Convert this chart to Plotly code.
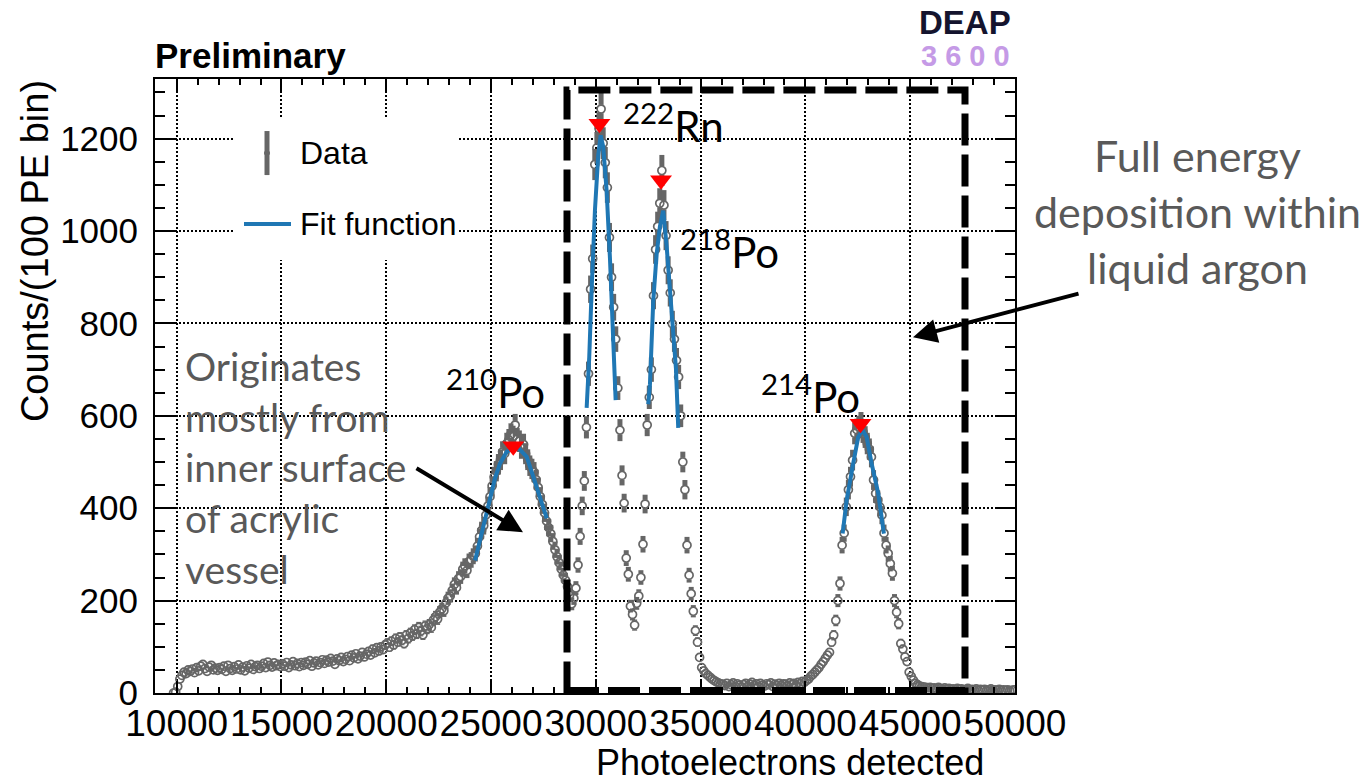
import math
import plotly.graph_objects as go

# ---------------- data ----------------
bin_start = 9850   # first bin centre, 100 PE bins
bin_width = 100

counts_low = [0, 2,
    14, 30, 38, 45, 42, 50, 47, 52, 44, 55,
    48, 58, 62, 53, 47, 56, 60, 50, 54, 49,
    55, 51, 58, 47, 60, 53, 49, 57, 52, 61,
    50, 56, 48, 59, 54, 62, 51, 57, 60, 53,
    58, 64, 55, 67, 60, 56, 65, 59, 62, 57,
    63, 58, 66, 55, 61, 68, 59, 64, 57, 66,
    60, 67, 62, 70, 58, 65, 69, 61, 66, 72,
    64, 71, 67, 75, 69, 62, 74, 70, 77, 68,
    73, 79, 70, 82, 76, 85, 74, 80, 88, 78,
    84, 90, 82, 95, 87, 98, 91, 100, 94, 104]
counts_po210 = [
    108, 99, 112, 104, 118, 110, 121, 114, 107, 125,
    118, 130, 124, 137, 128, 142, 134, 126, 145, 139,
    148, 142, 158, 165, 160, 175, 182, 178, 195, 205,
    210, 222, 235, 228, 248, 252, 268, 275, 265, 285,
    288, 296, 302, 318, 338, 352, 362, 385, 405, 425,
    448, 468, 480, 495, 505, 522, 518, 540, 548, 560,
    555, 580, 550, 545, 530, 538, 518, 505, 492, 485,
    478, 462, 445, 425, 408, 390, 372, 358, 345, 328,
    310, 295, 282, 268, 255, 244, 230, 212, 193, 205]
counts_rn_po218 = [
    227, 277, 339, 405, 459, 575, 691, 874, 940, 1144,
    1180, 1222, 1264, 1190, 1148, 1094, 986, 900, 835, 766,
    660, 569, 471, 411, 292, 257, 188, 170, 147, 194,
    210, 250, 322, 409, 580, 640, 700, 860, 960, 1010,
    1060, 1131, 1056, 990, 915, 866, 799, 766, 720, 684,
    600, 500, 440, 320, 255, 215, 177, 135, 110, 77,
    55, 48, 42, 38, 34, 30, 27, 24, 22, 20]
counts_valley = [
    19, 16, 21, 14, 18, 22, 15, 20, 17, 13,
    18, 21, 15, 19, 23, 16, 20, 14, 21, 17,
    15, 20, 18, 22, 14, 19, 16, 21, 17, 20,
    19, 16, 22, 18, 21, 17, 23, 20, 25, 23]
counts_po214 = [
    27, 30, 36, 40, 45, 50, 55, 62, 68, 75,
    82, 88, 110, 125, 157, 200, 237, 320, 346, 403,
    440, 468, 504, 562, 570, 576, 584, 565, 554, 540,
    528, 511, 461, 432, 418, 403, 385, 346, 320, 302,
    280, 259, 200, 175, 150, 107, 95, 78, 68, 45,
    36, 28, 21, 18, 15, 14, 13, 12, 11, 12,
    10, 11, 9, 12, 10, 8, 11, 9, 10, 8,
    9, 7, 10, 8, 9, 7, 8, 10, 7, 8,
    7, 9, 6, 8, 7, 8, 6, 7, 9, 6,
    7, 6, 8, 5, 7, 6, 7, 5, 6, 7]

counts = counts_low + counts_po210 + counts_rn_po218 + counts_valley + counts_po214
bins = [bin_start + bin_width * i for i in range(len(counts))]

fit210_x = [24237, 24475, 24795, 24952, 25191, 25429, 25748, 26225, 26702, 27017, 27337, 27657]
fit210_y = [287, 330, 396, 424, 465, 497, 522, 534, 511, 468, 424, 378]
fitrn_x = [29561, 29685, 29800, 29957, 30115, 30229, 30353, 30515, 30673, 30830, 30945]
fitrn_y = [617, 727, 873, 1045, 1164, 1207, 1182, 1087, 941, 788, 634]
fit218_x = [32500, 32581, 32739, 32901, 33058, 33216, 33378, 33535, 33693, 33822, 33931]
fit218_y = [625, 668, 848, 950, 1010, 1044, 967, 873, 796, 702, 574]
fit214_x = [41776, 41966, 42281, 42519, 42729, 42920, 43158, 43473, 43745]
fit214_y = [345, 417, 497, 554, 569, 554, 497, 432, 345]

peak_x = [26060, 30170, 33110, 42630]
peak_y = [534, 1232, 1110, 583]

x_ticks = [10000, 15000, 20000, 25000, 30000, 35000, 40000, 45000, 50000]
y_ticks = [0, 200, 400, 600, 800, 1000, 1200]

# ---------------- geometry helpers (pixel -> paper) ----------------
L, R, T, B = 155, 1015, 79, 692.6
W, H = 1372, 784
def pxx(p):
    return (p - L) / (R - L)
def pxy(p):
    return (B - p) / (B - T)

GRAY = "#666666"
BLUE = "#1f77b4"
ARIAL = "Liberation Sans, Arial, sans-serif"
CAL = "Lato, Carlito, Calibri, sans-serif"

fig = go.Figure()

# error bars (ROOT style: gap around open marker)
gap = 9
ex, ey = [], []
for xv, yv in zip(bins, counts):
    e = math.sqrt(yv)
    if e > gap:
        ex += [xv, xv, None, xv, xv, None]
        ey += [yv + gap, yv + e, None, yv - gap, yv - e, None]
fig.add_trace(go.Scatter(x=ex, y=ey, mode="lines",
                         line=dict(color=GRAY, width=5), hoverinfo="skip"))
fig.add_trace(go.Scatter(x=bins, y=counts, mode="markers", name="Data",
                         marker=dict(symbol="circle-open", size=8, color=GRAY,
                                     line=dict(color=GRAY, width=1.7))))
for fx, fy in [(fit210_x, fit210_y), (fitrn_x, fitrn_y), (fit218_x, fit218_y), (fit214_x, fit214_y)]:
    fig.add_trace(go.Scatter(x=fx, y=fy, mode="lines", name="Fit function",
                             line=dict(color=BLUE, width=4)))
fig.add_trace(go.Scatter(x=peak_x, y=peak_y, mode="markers",
                         marker=dict(symbol="triangle-down", size=19, color="red")))

axis_common = dict(showline=True, linecolor="black", linewidth=2, mirror="allticks",
                   ticks="inside", tickcolor="black", tickwidth=2,
                   showgrid=True, gridcolor="black", gridwidth=1.5, griddash="2px,2px",
                   zeroline=False, automargin=False, tickangle=0)

fig.update_xaxes(range=[8965, 50000], tickvals=x_ticks, tickformat="d", ticklen=12,
                 minor=dict(dtick=1000, tick0=10000, ticklen=6, tickwidth=1.5,
                            ticks="inside", tickcolor="black", showgrid=False),
                 tickfont=dict(family=ARIAL, size=37, color="black"),
                 ticklabelstandoff=-3, **axis_common)
fig.update_yaxes(range=[0, 1329], tickvals=y_ticks, tickformat="d", ticklen=20,
                 minor=dict(dtick=50, tick0=0, ticklen=10, tickwidth=1.5,
                            ticks="inside", tickcolor="black", showgrid=False),
                 tickfont=dict(family=ARIAL, size=35, color="black"),
                 ticklabelstandoff=8, **axis_common)

shapes = []
# legend box and symbols
shapes.append(dict(type="rect", xref="paper", yref="paper", layer="above",
                   x0=pxx(233), x1=pxx(457), y0=pxy(260), y1=pxy(117),
                   fillcolor="white", line=dict(width=0)))
shapes.append(dict(type="line", xref="paper", yref="paper", layer="above",
                   x0=pxx(267), x1=pxx(267), y0=pxy(175), y1=pxy(131),
                   line=dict(color=GRAY, width=5)))
shapes.append(dict(type="circle", xref="paper", yref="paper", layer="above",
                   x0=pxx(264.5), x1=pxx(269.5), y0=pxy(155.5), y1=pxy(150.5),
                   fillcolor=GRAY, line=dict(color=GRAY, width=1)))
shapes.append(dict(type="line", xref="paper", yref="paper", layer="above",
                   x0=pxx(244), x1=pxx(291), y0=pxy(224), y1=pxy(224),
                   line=dict(color=BLUE, width=4)))
# dashed selection box
shapes.append(dict(type="rect", xref="paper", yref="paper", layer="above",
                   x0=pxx(567), x1=pxx(965), y0=pxy(690), y1=pxy(90),
                   line=dict(color="black", width=7, dash="32px,9px")))

ann = []
def text(s, x, y, size, color="black", family=ARIAL, xanchor="center", yanchor="middle", **kw):
    ann.append(dict(text=s, x=pxx(x), y=pxy(y), xref="paper", yref="paper",
                    showarrow=False, xanchor=xanchor, yanchor=yanchor,
                    font=dict(size=size, color=color, family=family), **kw))

text("<b>Preliminary</b>", 153, 56, 35, xanchor="left")
text("<b>DEAP</b>", 1013, 23, 33, color="#14142e", xanchor="right")
text("<b>3 6 0 0</b>", 1012, 56, 29, color="#c59ae6", xanchor="right")
text("Data", 298, 153, 32, xanchor="left")
text("Fit function", 298, 224, 32, xanchor="left")
text("Photoelectrons detected", 986, 762, 36, xanchor="right")
text("Counts/(100 PE bin)", 35, 251, 38, textangle=-90)
text("Originates<br>mostly from<br>inner surface<br>of acrylic<br>vessel", 183, 467, 39,
     color="#595959", family=CAL, xanchor="left", align="left")
text("Full energy<br>deposition within<br>liquid argon", 1197, 211, 43,
     color="#595959", family=CAL, align="center")
text("<sup>210</sup>Po", 495, 389, 42, family=CAL)
text("<sup>222</sup>Rn", 673, 123, 42, family=CAL)
text("<sup>218</sup>Po", 729, 249, 42, family=CAL)
text("<sup>214</sup>Po", 810, 394, 42, family=CAL)

# arrows
ann.append(dict(x=pxx(523), y=pxy(532), xref="paper", yref="paper", text="",
                showarrow=True, ax=415 - 523, ay=467 - 532, arrowhead=2,
                arrowsize=1.2, arrowwidth=4, arrowcolor="black", standoff=0))
ann.append(dict(x=pxx(913), y=pxy(337), xref="paper", yref="paper", text="",
                showarrow=True, ax=1080 - 913, ay=293 - 337, arrowhead=2,
                arrowsize=1.2, arrowwidth=4, arrowcolor="black", standoff=0))

fig.update_layout(width=W, height=H, margin=dict(l=L, r=W - R, t=T, b=H - B),
                  plot_bgcolor="white", paper_bgcolor="white", showlegend=False,
                  shapes=shapes, annotations=ann,
                  font=dict(family=ARIAL, color="black"))

fig.write_html("out.html", config={"displayModeBar": False},
               post_script="document.body.style.margin='0';")
